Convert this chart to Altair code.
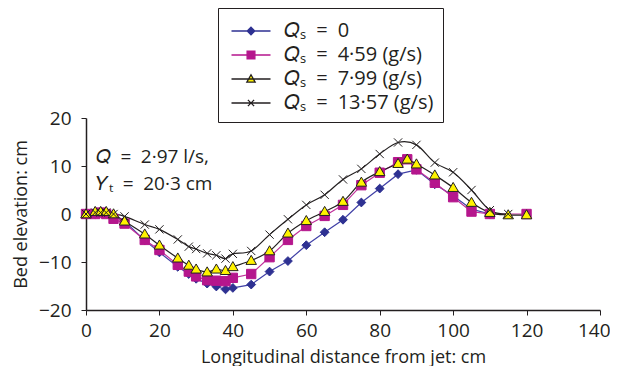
import altair as alt
import pandas as pd

FONT = "Open Sans"
INK = "#231f20"
SP = "\u2002"

series_names = [f"𝑄ₛ{SP}={SP}0", f"𝑄ₛ{SP}={SP}4·59 (g/s)", f"𝑄ₛ{SP}={SP}7·99 (g/s)", f"𝑄ₛ{SP}={SP}13·57 (g/s)"]

x_q0 = [0, 2.5, 4, 5.5, 7.5, 10.5, 16, 20, 25, 28, 30, 33, 35.5, 38, 40, 45, 50, 55, 60, 65, 70, 75, 80, 85, 90, 95, 100, 105, 110]
y_q0 = [0, 0, 0.3, 0.2, -0.5, -1.5, -5.5, -8, -11, -12.5, -13.5, -14.5, -15.1, -15.7, -15.4, -14.7, -12, -9.8, -6.5, -3.8, -1.2, 2.4, 5.3, 8.3, 9.2, 6.2, 3.8, 1, 0]

x_q1 = [0, 2.5, 4, 5.5, 7.5, 10.5, 16, 20, 25, 28, 30, 33, 35.5, 38, 40, 45, 50, 55, 60, 65, 70, 75, 80, 85, 87.5, 90, 95, 100, 105, 110, 120]
y_q1 = [0, 0, 0.3, 0, -1, -2, -5.4, -7.5, -10.6, -12, -13, -13.8, -13.9, -14, -13.3, -12.5, -9, -5.4, -2.5, -0.4, 1.9, 6, 8.6, 10.8, 11.4, 9.3, 6.5, 3.5, 0.5, 0, 0]

x_q2 = [0, 2.5, 4, 5.5, 7.5, 10.5, 16, 20, 25, 28, 30, 33, 35.5, 38, 40, 45, 50, 55, 60, 65, 70, 75, 80, 85, 87.5, 90, 95, 100, 105, 110, 115, 120]
y_q2 = [0, 0.5, 0.5, 0.5, 0, -1.5, -4.2, -6.5, -9.2, -10.7, -11.5, -12.1, -11.5, -11.8, -11, -9.7, -7.7, -4, -1.4, 0.5, 2.6, 6.6, 8.8, 10.5, 11.4, 10.4, 8.1, 5.5, 2.4, 0.3, -0.2, -0.2]

x_q3 = [0, 2.5, 4, 5.5, 7.5, 10.5, 16, 20, 25, 28, 30, 33, 35.5, 38, 40, 45, 50, 55, 60, 65, 70, 75, 80, 85, 90, 95, 100, 105, 110, 115]
y_q3 = [0, 0.3, 0.3, 0.3, 0, -0.5, -2.2, -3.2, -5.3, -6.8, -7.3, -8.2, -8.6, -9.3, -8.3, -7.7, -4.3, -1.1, 1.9, 4, 7.2, 9.4, 12.5, 14.9, 14.4, 10.7, 8.7, 5, 0.8, 0]

annot_x = [2.7, 2.7]
annot_y = [11.9, 6.3]
annot_text = [f"𝑄{SP}={SP}2·97 l/s,", f"𝑌ₜ{SP}={SP}20·3 cm"]

rows = []
for name, xs, ys in zip(series_names, [x_q0, x_q1, x_q2, x_q3], [y_q0, y_q1, y_q2, y_q3]):
    for xv, yv in zip(xs, ys):
        rows.append({"series": name, "x": xv, "y": yv})
df = pd.DataFrame(rows)
annot = pd.DataFrame({"x": annot_x, "y": annot_y, "t": annot_text})

line_colors = ["#4040a6", "#c0309a", INK, INK]
fill_colors = ["#2e3192", "#b5168d", "#fff200", "transparent"]
stroke_colors = ["#2e3192", "#b5168d", INK, INK]
marker_paths = [
    "M0,-0.8L0.8,0L0,0.8L-0.8,0Z",
    "M-0.85,-0.85H0.85V0.85H-0.85Z",
    "M0,-0.95L0.95,0.7H-0.95Z",
    "M-0.75,-0.75L0.75,0.75M-0.75,0.75L0.75,-0.75",
]
legend_paths = [
    "M-1.5,0H1.5M0,-0.29L0.29,0L0,0.29L-0.29,0Z",
    "M-1.5,0H1.5M-0.3,-0.3H0.3V0.3H-0.3Z",
    "M-1.5,0H1.5M0,-0.33L0.32,0.24H-0.32Z",
    "M-1.5,0H1.5M-0.24,-0.24L0.24,0.24M-0.24,0.24L0.24,-0.24",
]

xenc = alt.X("x:Q", scale=alt.Scale(domain=[0, 140], nice=False),
             axis=alt.Axis(values=[0, 20, 40, 60, 80, 100, 120, 140], labelFlush=False,
                           labelAlign={"condition": {"test": "datum.value == 140", "value": "right"}, "value": "center"},
                           labelOffset={"condition": {"test": "datum.value == 140", "value": 10}, "value": 0},
                           title="Longitudinal distance from jet: cm", titlePadding=8, labelPadding=6))
yenc = alt.Y("y:Q", scale=alt.Scale(domain=[-20, 20], nice=False),
             axis=alt.Axis(values=[-20, -10, 0, 10, 20], title="Bed elevation: cm", labelFlush=False,
                           titlePadding=8, labelPadding=10))

base = alt.Chart(df)

lines_straight = base.transform_filter(
    alt.FieldOneOfPredicate(field="series", oneOf=series_names[:2])
).mark_line(strokeWidth=1.2).encode(
    x=xenc, y=yenc,
    stroke=alt.Stroke("series:N", scale=alt.Scale(domain=series_names, range=line_colors), legend=None),
)

lines_smooth = base.transform_filter(
    alt.FieldOneOfPredicate(field="series", oneOf=series_names[2:])
).mark_line(strokeWidth=1.2, interpolate="cardinal").encode(
    x=xenc, y=yenc,
    stroke=alt.Stroke("series:N", scale=alt.Scale(domain=series_names, range=line_colors), legend=None),
)

points = base.mark_point(strokeWidth=1, opacity=1, size=121).encode(
    x=xenc, y=yenc,
    shape=alt.Shape("series:N", scale=alt.Scale(domain=series_names, range=marker_paths), legend=None),
    fill=alt.Fill("series:N", scale=alt.Scale(domain=series_names, range=fill_colors), legend=None),
    stroke=alt.Stroke("series:N", scale=alt.Scale(domain=series_names, range=stroke_colors), legend=None),
)

leg = alt.Legend(title=None, orient="none", legendX=132, legendY=-110, padding=9,
                 strokeColor=INK, fillColor="white", labelFont=FONT, labelFontSize=20,
                 labelColor=INK, symbolSize=676, symbolStrokeWidth=1.3, rowPadding=0,
                 symbolOffset=10, labelOffset=19, symbolOpacity=1)

legend_layer = base.transform_filter(alt.datum.x < -1000).mark_point(strokeWidth=1.3, opacity=1).encode(
    x=xenc, y=yenc,
    shape=alt.Shape("series:N", scale=alt.Scale(domain=series_names, range=legend_paths), legend=leg),
    fill=alt.Fill("series:N", scale=alt.Scale(domain=series_names, range=fill_colors), legend=leg),
    stroke=alt.Stroke("series:N", scale=alt.Scale(domain=series_names, range=stroke_colors), legend=leg),
)

texts = alt.Chart(annot).mark_text(align="left", baseline="middle", font=FONT, fontSize=19, color=INK).encode(
    x=alt.X("x:Q"), y=alt.Y("y:Q"), text="t:N"
)

chart = alt.layer(lines_straight, lines_smooth, points, legend_layer, texts).resolve_scale(
    shape="independent", fill="independent", stroke="independent"
).properties(
    width=514, height=192,
    autosize=alt.AutoSizeParams(type="none"),
    padding={"left": 78, "top": 110, "right": 10, "bottom": 56},
).configure_view(stroke=None).configure_axis(
    grid=False, domainColor=INK, domainWidth=1.5, tickColor=INK, tickSize=5, tickWidth=1,
    labelFont=FONT, titleFont=FONT, labelFontSize=19, titleFontSize=18,
    labelColor=INK, titleColor=INK, titleFontWeight="normal",
)

chart.save("out.html", embed_options={"renderer": "svg", "actions": False})
